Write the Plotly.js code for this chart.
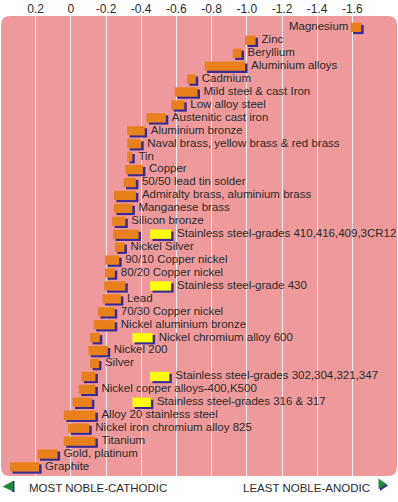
<!DOCTYPE html>
<html><head><meta charset="utf-8">
<script src="https://cdn.plot.ly/plotly-3.0.1.min.js"></script>
<style>html,body{margin:0;padding:0;background:#fff}#chart{width:398px;height:502px}</style>
</head><body><div id="chart"></div>
<script>
const materials = ["Magnesium","Zinc","Beryllium","Aluminium alloys","Cadmium","Mild steel & cast Iron","Low alloy steel","Austenitic cast iron","Aluminium bronze","Naval brass, yellow brass & red brass","Tin","Copper","50/50 lead tin solder","Admiralty brass, aluminium brass","Manganese brass","Silicon bronze","Stainless steel-grades 410,416,409,3CR12","Nickel Silver","90/10 Copper nickel","80/20 Copper nickel","Stainless steel-grade 430","Lead","70/30 Copper nickel","Nickel aluminium bronze","Nickel chromium alloy 600","Nickel 200","Silver","Stainless steel-grades 302,304,321,347","Nickel copper alloys-400,K500","Stainless steel-grades 316 & 317","Alloy 20 stainless steel","Nickel iron chromium alloy 825","Titanium","Gold, platinum","Graphite"];
// Orange bar: potential range (V)
const orangeFrom = [-1.59,-0.99,-0.92,-0.76,-0.66,-0.59,-0.57,-0.43,-0.32,-0.32,-0.32,-0.31,-0.30,-0.245,-0.245,-0.235,-0.24,-0.25,-0.195,-0.195,-0.19,-0.18,-0.155,-0.13,-0.11,-0.10,-0.11,-0.06,-0.045,-0.01,0.04,0.015,0.04,0.19,0.345];
const orangeTo   = [-1.65,-1.05,-0.97,-0.99,-0.71,-0.72,-0.645,-0.54,-0.42,-0.40,-0.35,-0.41,-0.37,-0.37,-0.35,-0.31,-0.385,-0.305,-0.275,-0.25,-0.31,-0.285,-0.25,-0.25,-0.165,-0.21,-0.16,-0.14,-0.14,-0.12,-0.14,-0.105,-0.14,0.075,0.18];
// Yellow bar: range in crevices / low velocity water (V)
const yellowFrom = [null,null,null,null,null,null,null,null,null,null,null,null,null,null,null,null,-0.45,null,null,null,-0.45,null,null,null,-0.35,null,null,-0.45,null,-0.35,null,null,null,null,null];
const yellowTo   = [null,null,null,null,null,null,null,null,null,null,null,null,null,null,null,null,-0.57,null,null,null,-0.57,null,null,null,-0.465,null,null,-0.56,null,-0.455,null,null,null,null,null];
const tickValues = [0.2,0,-0.2,-0.4,-0.6,-0.8,-1.0,-1.2,-1.4,-1.6];
const tickLabels = ["0.2","0","-0.2","-0.4","-0.6","-0.8","-1.0","-1.2","-1.4","-1.6"];
const leftCaption = "MOST NOBLE-CATHODIC";
const rightCaption = "LEAST NOBLE-ANODIC";

const W = 398, H = 502, M = {l:1, r:1, t:16, b:26};
const pw = W - M.l - M.r, ph = H - M.t - M.b;
const px2x = p => (p - M.l) / pw;
const py2y = p => (H - M.b - p) / ph;

const PINK = '#EE9A9C', ORANGE = '#E8801C', NAVY = '#3A2A96', YELLOW = '#FFFF00', GREEN = '#1E8A3A', TXT = '#2b2b2b';
const FONT = 'Liberation Sans, Arial, sans-serif';
const barW = 0.72, shDY = 0.16, shDX = -0.014;

const yIdx = yellowFrom.map((v,i)=> v===null ? -1 : i).filter(i=>i>=0);
const yCats = yIdx.map(i=>materials[i]);
const yFrom = yIdx.map(i=>yellowFrom[i]);
const yLen = yIdx.map(i=>yellowTo[i]-yellowFrom[i]);
const oLen = orangeTo.map((t,i)=>t-orangeFrom[i]);

function barTrace(cats, base, len, color, shadow){
  return {type:'bar', orientation:'h', y:cats, x:len,
    base: shadow ? base.map(b=>b+shDX) : base,
    width:barW, offset: -barW/2 + (shadow ? shDY : 0),
    marker:{color:color, line:{width:0}}, hoverinfo:'skip', showlegend:false};
}
const labelX = materials.map((m,i)=> {
  const ends = [orangeTo[i], orangeFrom[i]];
  if (yellowTo[i] !== null) ends.push(yellowTo[i]);
  return i === 0 ? Math.max(...ends) : Math.min(...ends);
});
const traces = [
  barTrace(materials, orangeFrom, oLen, NAVY, true),
  barTrace(yCats, yFrom, yLen, NAVY, true),
  barTrace(materials, orangeFrom, oLen, ORANGE, false),
  barTrace(yCats, yFrom, yLen, YELLOW, false),
  {type:'scatter', mode:'markers+text', x:labelX, y:materials, text:materials,
   marker:{size: materials.map((m,i)=> i===0 ? 2 : 8), opacity:0, color:'rgba(0,0,0,0)', line:{width:0, color:'rgba(0,0,0,0)'}},
   textposition: materials.map((m,i)=> i===0 ? 'middle left' : 'middle right'),
   textfont:{family:FONT, size:11.5, color:TXT}, hoverinfo:'skip', showlegend:false}
];

const r = 9, X0 = 1, X1 = 397, Y0 = 16, Y1 = 476;
const P = (x,y)=> px2x(x).toFixed(5)+','+py2y(y).toFixed(5);
const rounded = 'M'+P(X0+r,Y0)+' L'+P(X1-r,Y0)+' Q'+P(X1,Y0)+' '+P(X1,Y0+r)+' L'+P(X1,Y1-r)+' Q'+P(X1,Y1)+' '+P(X1-r,Y1)+
  ' L'+P(X0+r,Y1)+' Q'+P(X0,Y1)+' '+P(X0,Y1-r)+' L'+P(X0,Y0+r)+' Q'+P(X0,Y0)+' '+P(X0+r,Y0)+' Z';
const poly = pts => 'M' + pts.map(p=>P(p[0],p[1])).join(' L') + ' Z';

const shapes = [
  {type:'path', xref:'paper', yref:'paper', path:rounded, fillcolor:PINK, line:{width:0}, layer:'below'},
  {type:'path', xref:'paper', yref:'paper', path:poly([[12,481],[14.5,481],[14.5,492],[12,492]]), fillcolor:NAVY, line:{width:0}},
  {type:'path', xref:'paper', yref:'paper', path:poly([[2.5,486.5],[13,481],[13,491.5]]), fillcolor:GREEN, line:{width:0}},
  {type:'path', xref:'paper', yref:'paper', path:poly([[380,480],[380,491],[388,485.5]]), fillcolor:NAVY, line:{width:0}},
  {type:'path', xref:'paper', yref:'paper', path:poly([[378.5,478.5],[378.5,489.5],[386.5,484]]), fillcolor:GREEN, line:{width:0}}
];

const layout = {
  width:W, height:H, margin:M, paper_bgcolor:'#fff', plot_bgcolor:'rgba(0,0,0,0)',
  barmode:'overlay', showlegend:false,
  xaxis:{range:[(70.8-1)/176, -(397-70.8)/176], side:'top', tickvals:tickValues, ticktext:tickLabels,
    showgrid:true, gridcolor:'rgba(255,255,255,0.85)', gridwidth:1, zeroline:false, showline:false, ticks:'',
    tickfont:{family:FONT, size:12, color:TXT}, fixedrange:true},
  yaxis:{type:'category', range:[34.70, -0.88], visible:false, showgrid:false, fixedrange:true},
  shapes:shapes,
  annotations:[
    {xref:'paper', yref:'paper', x:px2x(27), y:py2y(488), xanchor:'left', yanchor:'middle', text:leftCaption, showarrow:false, font:{family:FONT, size:11.5, color:TXT}},
    {xref:'paper', yref:'paper', x:px2x(372), y:py2y(488), xanchor:'right', yanchor:'middle', text:rightCaption, showarrow:false, font:{family:FONT, size:11.5, color:TXT}}
  ]
};
Plotly.newPlot('chart', traces, layout, {displayModeBar:false, staticPlot:true});
</script></body></html>
